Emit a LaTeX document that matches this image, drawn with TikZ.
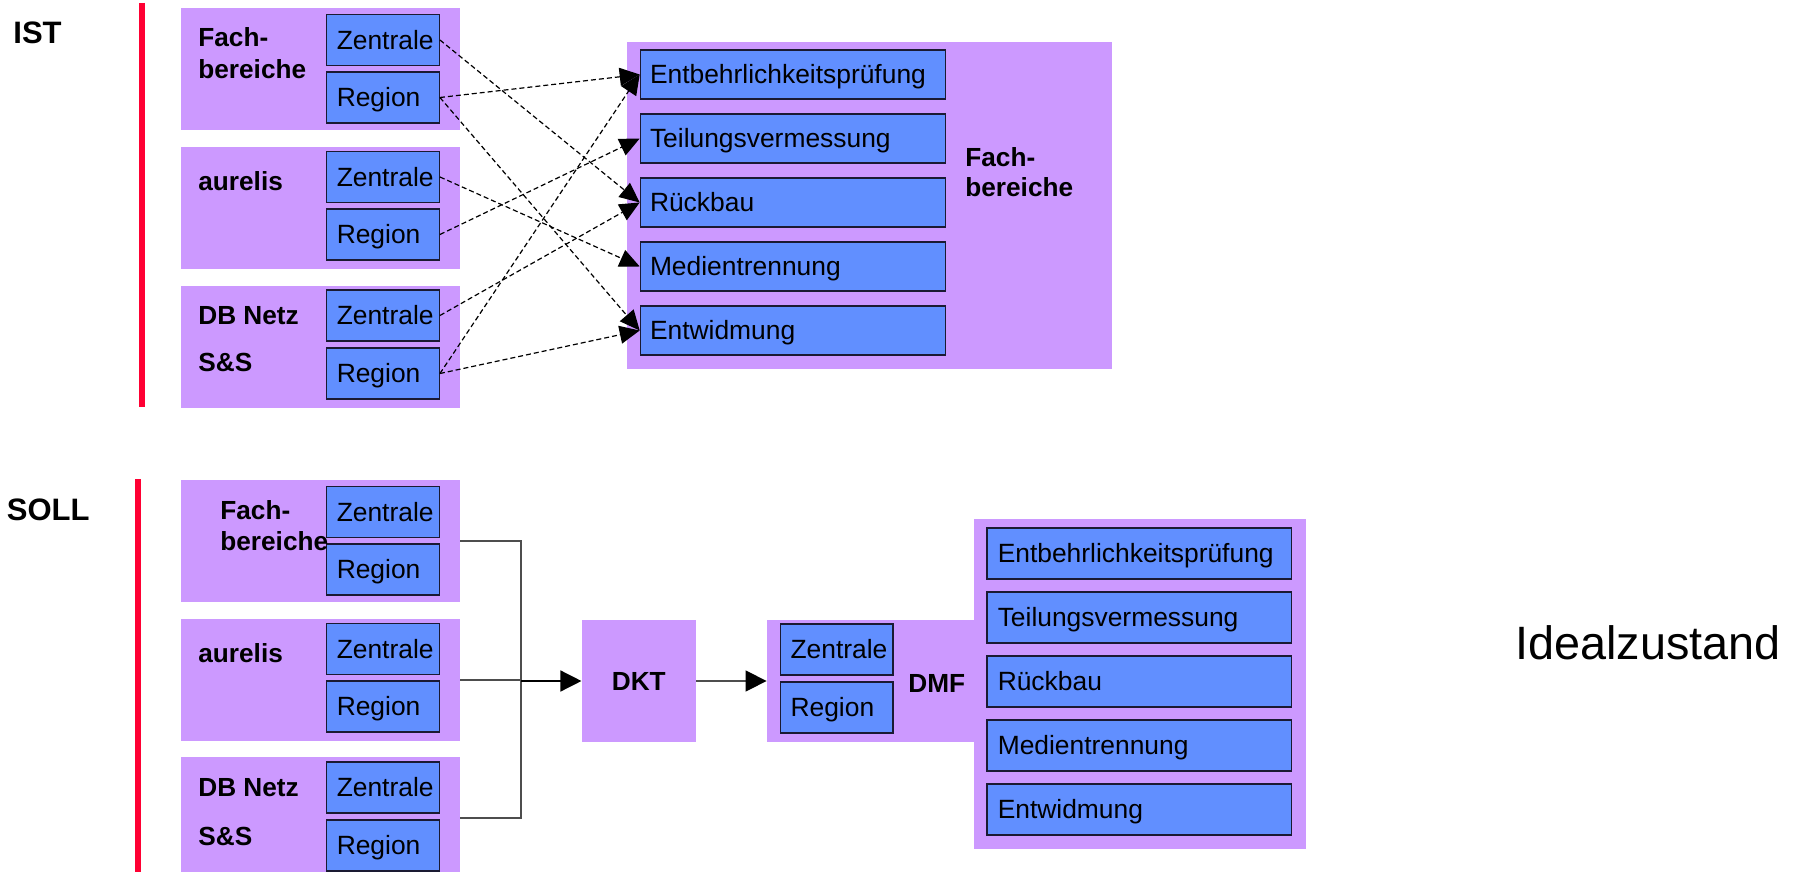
\documentclass[tikz,border=0pt]{standalone}
\usepackage{fontspec}
\setmainfont{Liberation Sans}
\usetikzlibrary{arrows.meta}

\definecolor{lila}{HTML}{CC99FF}
\definecolor{blau}{HTML}{618FFF}
\definecolor{rahmen}{HTML}{1A1A33}
\definecolor{balken}{HTML}{FF0033}
\definecolor{linie}{HTML}{4D4D4D}

\begin{document}
\begin{tikzpicture}[x=0.5pt,y=-0.5pt,
  lilabox/.style={fill=lila, draw=none, inner sep=0pt},
  blaubox/.style={fill=blau, draw=rahmen, line width=0.7pt, inner ysep=0pt,
    text height=9.45pt, text depth=0pt, align=left,
    font=\fontsize{13.2}{15}\selectfont},
  kleinbox/.style={blaubox, minimum height=25.5pt, inner xsep=5pt, text width=46.25pt},
  grossbox/.style={blaubox, minimum height=24.5pt, inner xsep=4.8pt, text width=142.9pt},
  sollbox/.style={blaubox, minimum height=25.5pt, inner xsep=5.35pt, text width=141.55pt},
  etikett/.style={anchor=base west, inner sep=0pt, font=\fontsize{13.1}{15}\selectfont\bfseries},
  titel/.style={anchor=base west, inner sep=0pt, font=\fontsize{15.5}{18}\selectfont\bfseries},
  trenner/.style={balken, line width=3pt},
  pfeil/.style={draw=black, line width=0.6pt, dash pattern=on 2.5pt off 1.5pt,
    -{Triangle[length=10pt,width=9pt]}},
  verbinder/.style={draw=linie, line width=0.7pt},
  hauptpfeil/.style={line width=0.7pt, -{Triangle[length=10.5pt,width=10.5pt,color=black]}},
]
\useasboundingbox (0,0) rectangle (1795,872);
\clip (0,0) rectangle (1795,872);

% ---------------- IST ----------------
\node[titel] (ist) at (13,43.3) {IST};
\draw[trenner] (141.6,3) -- (141.6,407);

% source groups
\node[lilabox, minimum width=139.3pt, minimum height=61pt] (ifb) at (320.3,69) {};
\node[lilabox, minimum width=139.3pt, minimum height=61pt] (iau) at (320.3,208) {};
\node[lilabox, minimum width=139.3pt, minimum height=61pt] (idb) at (320.3,346.5) {};

\node[kleinbox] (ifbz) at (383,40) {Zentrale};
\node[kleinbox] (ifbr) at (383,97.5) {Region};
\node[kleinbox] (iauz) at (383,177) {Zentrale};
\node[kleinbox] (iaur) at (383,234.5) {Region};
\node[kleinbox] (idbz) at (383,315.5) {Zentrale};
\node[kleinbox] (idbr) at (383,373.5) {Region};

\node[etikett] (ifbl1) at (198,46.7) {Fach-};
\node[etikett] (ifbl2) at (198,78.3) {bereiche};
\node[etikett] (iaul) at (198,190.7) {aurelis};
\node[etikett] (idbl1) at (198,324) {DB Netz};
\node[etikett] (idbl2) at (198,371.7) {S\&S};

% target group
\node[lilabox, minimum width=242.4pt, minimum height=163.5pt] (ifach) at (869.4,205.5) {};
\node[grossbox] (ient) at (792.9,74.5) {Entbehrlichkeitsprüfung};
\node[grossbox] (iteil) at (792.9,138.5) {Teilungsvermessung};
\node[grossbox] (irueck) at (792.9,202.5) {Rückbau};
\node[grossbox] (imed) at (792.9,266.5) {Medientrennung};
\node[grossbox] (ientw) at (792.9,330.5) {Entwidmung};
\node[etikett] (ifl1) at (965,166.7) {Fach-};
\node[etikett] (ifl2) at (965,196.7) {bereiche};

% current responsibilities
\draw[pfeil] (ifbz.east) -- (irueck.west);
\draw[pfeil] (ifbr.east) -- (ient.west);
\draw[pfeil] (ifbr.east) -- (ientw.west);
\draw[pfeil] (iauz.east) -- (imed.west);
\draw[pfeil] (iaur.east) -- (iteil.west);
\draw[pfeil] (idbz.east) -- (irueck.west);
\draw[pfeil] (idbr.east) -- (ient.west);
\draw[pfeil] (idbr.east) -- (ientw.west);

% ---------------- SOLL ----------------
\node[titel] (soll) at (6.5,520) {SOLL};
\draw[trenner] (138.3,479) -- (138.3,872);

\node[lilabox, minimum width=139.3pt, minimum height=61pt] (sfb) at (320.3,541) {};
\node[lilabox, minimum width=139.3pt, minimum height=61pt] (sau) at (320.3,680) {};
\node[lilabox, minimum width=139.3pt, minimum height=61pt] (sdb) at (320.3,818) {};

\node[kleinbox] (sfbz) at (383,512) {Zentrale};
\node[kleinbox] (sfbr) at (383,569.5) {Region};
\node[kleinbox] (sauz) at (383,649) {Zentrale};
\node[kleinbox] (saur) at (383,706.5) {Region};
\node[kleinbox] (sdbz) at (383,787.5) {Zentrale};
\node[kleinbox] (sdbr) at (383,845.5) {Region};

\node[etikett] (sfbl1) at (220,519) {Fach-};
\node[etikett] (sfbl2) at (220,550.7) {bereiche};
\node[etikett] (saul) at (198,662.7) {aurelis};
\node[etikett] (sdbl1) at (198,796) {DB Netz};
\node[etikett] (sdbl2) at (198,845) {S\&S};

% DKT
\node[lilabox, minimum width=56.95pt, minimum height=61pt,
  font=\fontsize{13.1}{15}\selectfont\bfseries, text height=9.4pt, text depth=0pt] (dkt) at (638.8,681) {DKT};

% DMF
\node[lilabox, minimum width=103.5pt, minimum height=61pt] (dmf) at (870.5,681) {};
\node[lilabox, minimum width=165.75pt, minimum height=165pt] (dmfgross) at (1139.75,684) {};
\node[kleinbox] (dmfz) at (836.8,649.5) {Zentrale};
\node[kleinbox] (dmfr) at (836.8,707.5) {Region};
\node[etikett] (dmfl) at (908,692) {DMF};

\node[sollbox] (sent) at (1139.3,553.5) {Entbehrlichkeitsprüfung};
\node[sollbox] (steil) at (1139.3,617.5) {Teilungsvermessung};
\node[sollbox] (srueck) at (1139.3,681.5) {Rückbau};
\node[sollbox] (smed) at (1139.3,745.5) {Medientrennung};
\node[sollbox] (sentw) at (1139.3,809.5) {Entwidmung};

% bundled flow
\coordinate (knoten) at (521,681);
\draw[verbinder] (sfb.east) -- (sfb.east -| knoten) -- (sdb.east -| knoten) -- (sdb.east);
\draw[verbinder] (sau.east) -- (sau.east -| knoten);
\draw[hauptpfeil, draw=black] (knoten) -- (dkt.west);
\draw[hauptpfeil, draw=linie] (dkt.east) -- (dmf.west);

\node[anchor=base west, inner sep=0pt, font=\fontsize{23.4}{28}\selectfont] (ideal) at (1515,659) {Idealzustand};
\end{tikzpicture}
\end{document}
